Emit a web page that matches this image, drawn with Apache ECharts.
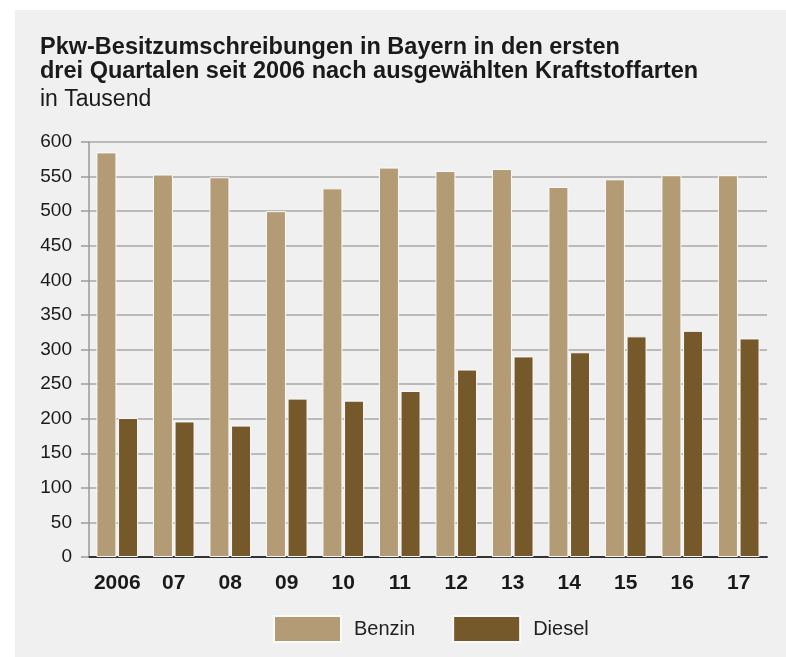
<!DOCTYPE html>
<html>
<head>
<meta charset="utf-8">
<script src="https://cdn.jsdelivr.net/npm/echarts@6/dist/echarts.min.js"></script>
<style>
  html, body { margin: 0; padding: 0; background: #ffffff; }
  .panel { position: absolute; left: 15px; top: 10px; width: 771px; height: 647px; background: #f0f0f0; }
  #chart { position: absolute; left: 0; top: 0; width: 786px; height: 657px; }
</style>
</head>
<body>
<div class="panel"></div>
<div id="chart"></div>
<script>
const years = ['2006', '07', '08', '09', '10', '11', '12', '13', '14', '15', '16', '17'];
const benzin = [585, 553, 549, 500, 533, 563, 558, 561, 535, 546, 552, 552];
const diesel = [201, 196, 190, 229, 226, 240, 271, 290, 296, 319, 327, 316];
const yTicks = { min: 0, max: 600, step: 50 };

const fontFamily = '"Liberation Sans", Arial, sans-serif';

const chart = echarts.init(document.getElementById('chart'));

const options = {
  backgroundColor: 'transparent',
  textStyle: { fontFamily: fontFamily },
  title: {
    text: 'Pkw-Besitzumschreibungen in Bayern in den ersten\ndrei Quartalen seit 2006 nach ausgewählten Kraftstoffarten',
    subtext: 'in Tausend',
    left: 35,
    top: 31,
    itemGap: 4,
    textStyle: {
      fontFamily: fontFamily,
      fontSize: 23.5,
      fontWeight: 'bold',
      color: '#1a1a1a',
      lineHeight: 24
    },
    subtextStyle: {
      fontFamily: fontFamily,
      fontSize: 23,
      color: '#1a1a1a'
    }
  },
  legend: {
    left: 268,
    top: 610,
    itemWidth: 67,
    itemHeight: 26,
    itemGap: 37,
    icon: 'rect',
    textStyle: {
      fontFamily: fontFamily,
      fontSize: 20,
      color: '#222',
      padding: [0, 0, 0, 8]
    },
    data: ['Benzin', 'Diesel']
  },
  grid: {
    left: 89,
    right: 19,
    top: 142,
    bottom: 100
  },
  xAxis: {
    type: 'category',
    data: years,
    axisLine: { lineStyle: { color: '#333', width: 2 } },
    axisTick: { show: false },
    axisLabel: {
      interval: 0,
      fontFamily: fontFamily,
      fontSize: 21,
      fontWeight: 'bold',
      color: '#1a1a1a',
      margin: 16
    }
  },
  yAxis: {
    type: 'value',
    min: yTicks.min,
    max: yTicks.max,
    interval: yTicks.step,
    axisLine: { show: true, lineStyle: { color: '#9a9a9a', width: 1.5 } },
    axisTick: { show: true, length: 8, lineStyle: { color: '#9a9a9a', width: 1.5 } },
    axisLabel: {
      fontFamily: fontFamily,
      fontSize: 19,
      color: '#1a1a1a',
      margin: 17
    },
    splitLine: { lineStyle: { color: '#a8a8a8', width: 1.5 } }
  },
  series: [
    {
      name: 'Benzin',
      type: 'bar',
      data: benzin,
      barWidth: 20,
      barGap: '8%',
      itemStyle: { color: '#b39c75', borderColor: '#fafafa', borderWidth: 1 }
    },
    {
      name: 'Diesel',
      type: 'bar',
      data: diesel,
      barWidth: 20,
      itemStyle: { color: '#75592a', borderColor: '#fafafa', borderWidth: 1 }
    }
  ]
};

chart.setOption(options);
</script>
</body>
</html>
